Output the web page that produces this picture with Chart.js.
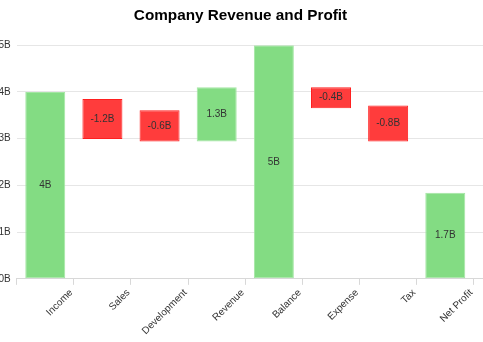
<!DOCTYPE html>
<html>
<head>
<meta charset="utf-8">
<script src="https://cdn.jsdelivr.net/npm/chart.js@4.4.0/dist/chart.umd.min.js"></script>
<style>
  html, body { margin: 0; padding: 0; background: #fff; overflow: hidden; }
  #wrap { position: absolute; left: -50px; top: 0; width: 583px; height: 342px; }
</style>
</head>
<body>
<div id="wrap"><canvas id="myChart"></canvas></div>
<script>
// categories of the waterfall
const categories = ['Income', 'Sales', 'Development', 'Revenue', 'Balance', 'Expense', 'Tax', 'Net Profit'];
// floating bar bottoms and tops, in billions
const barStart = [0, 2.99, 2.94, 2.94, 0, 3.65, 2.94, 0];
const barEnd = [4, 3.85, 3.61, 4.10, 5, 4.10, 3.71, 1.84];
// text printed inside each bar
const barLabels = ['4B', '-1.2B', '-0.6B', '1.3B', '5B', '-0.4B', '-0.8B', '1.7B'];
const isGain = [true, false, false, true, true, false, false, true];
// y axis ticks
const yTicks = [0, 1, 2, 3, 4, 5];

const GREEN = '#83dc83';
const GREEN_EDGE = '#a3e6a3';
const RED = '#ff3c3c';
const RED_EDGE = '#ff2020';

// one blank slot on the right so the grid runs on past the last band
const xLabels = categories.concat(['']);
const ranges = categories.map((c, i) => [barStart[i], barEnd[i]]).concat([null]);

const barText = {
  id: 'barText',
  afterDatasetsDraw(chart) {
    const ctx = chart.ctx;
    const meta = chart.getDatasetMeta(0);
    ctx.save();
    ctx.font = '10px "Liberation Sans", Arial, sans-serif';
    ctx.fillStyle = '#333';
    ctx.textAlign = 'center';
    ctx.textBaseline = 'middle';
    barLabels.forEach((t, i) => {
      const el = meta.data[i];
      const p = el.getCenterPoint();
      ctx.fillText(t, p.x, p.y);
    });
    ctx.restore();
  }
};

const ctx = document.getElementById('myChart').getContext('2d');
new Chart(ctx, {
  type: 'bar',
  data: {
    labels: xLabels,
    datasets: [{
      data: ranges,
      backgroundColor: isGain.map(g => g ? GREEN : RED),
      borderColor: isGain.map(g => g ? GREEN_EDGE : RED_EDGE),
      borderWidth: 1,
      borderSkipped: false,
      barPercentage: 0.7,
      categoryPercentage: 1
    }]
  },
  options: {
    responsive: true,
    maintainAspectRatio: false,
    animation: false,
    layout: { padding: { left: 0, right: 2, bottom: 3 } },
    scales: {
      x: {
        offset: true,
        grid: { offset: true, drawOnChartArea: false, color: '#d8d8d8', tickLength: 6 },
        border: { color: '#d8d8d8' },
        ticks: {
          autoSkip: false,
          minRotation: 45,
          maxRotation: 45,
          labelOffset: 26,
          padding: 2,
          color: '#333',
          font: { family: '"Liberation Sans", Arial, sans-serif', size: 10 }
        }
      },
      y: {
        min: 0,
        max: 5,
        afterFit(scale) { scale.width = 66.7; },
        afterBuildTicks(scale) { scale.ticks = yTicks.map(v => ({ value: v })); },
        grid: { color: '#e6e6e6', drawTicks: false },
        border: { display: false },
        ticks: {
          padding: 6,
          color: '#333',
          font: { family: '"Liberation Sans", Arial, sans-serif', size: 10 },
          callback: v => v + 'B'
        }
      }
    },
    plugins: {
      legend: { display: false },
      tooltip: { enabled: false },
      title: {
        display: true,
        text: 'Company Revenue and Profit',
        color: '#000',
        font: { family: '"Liberation Sans", Arial, sans-serif', size: 15.3, weight: 'bold' },
        padding: { top: 7, bottom: 19.8 }
      }
    }
  },
  plugins: [barText]
});
</script>
</body>
</html>
